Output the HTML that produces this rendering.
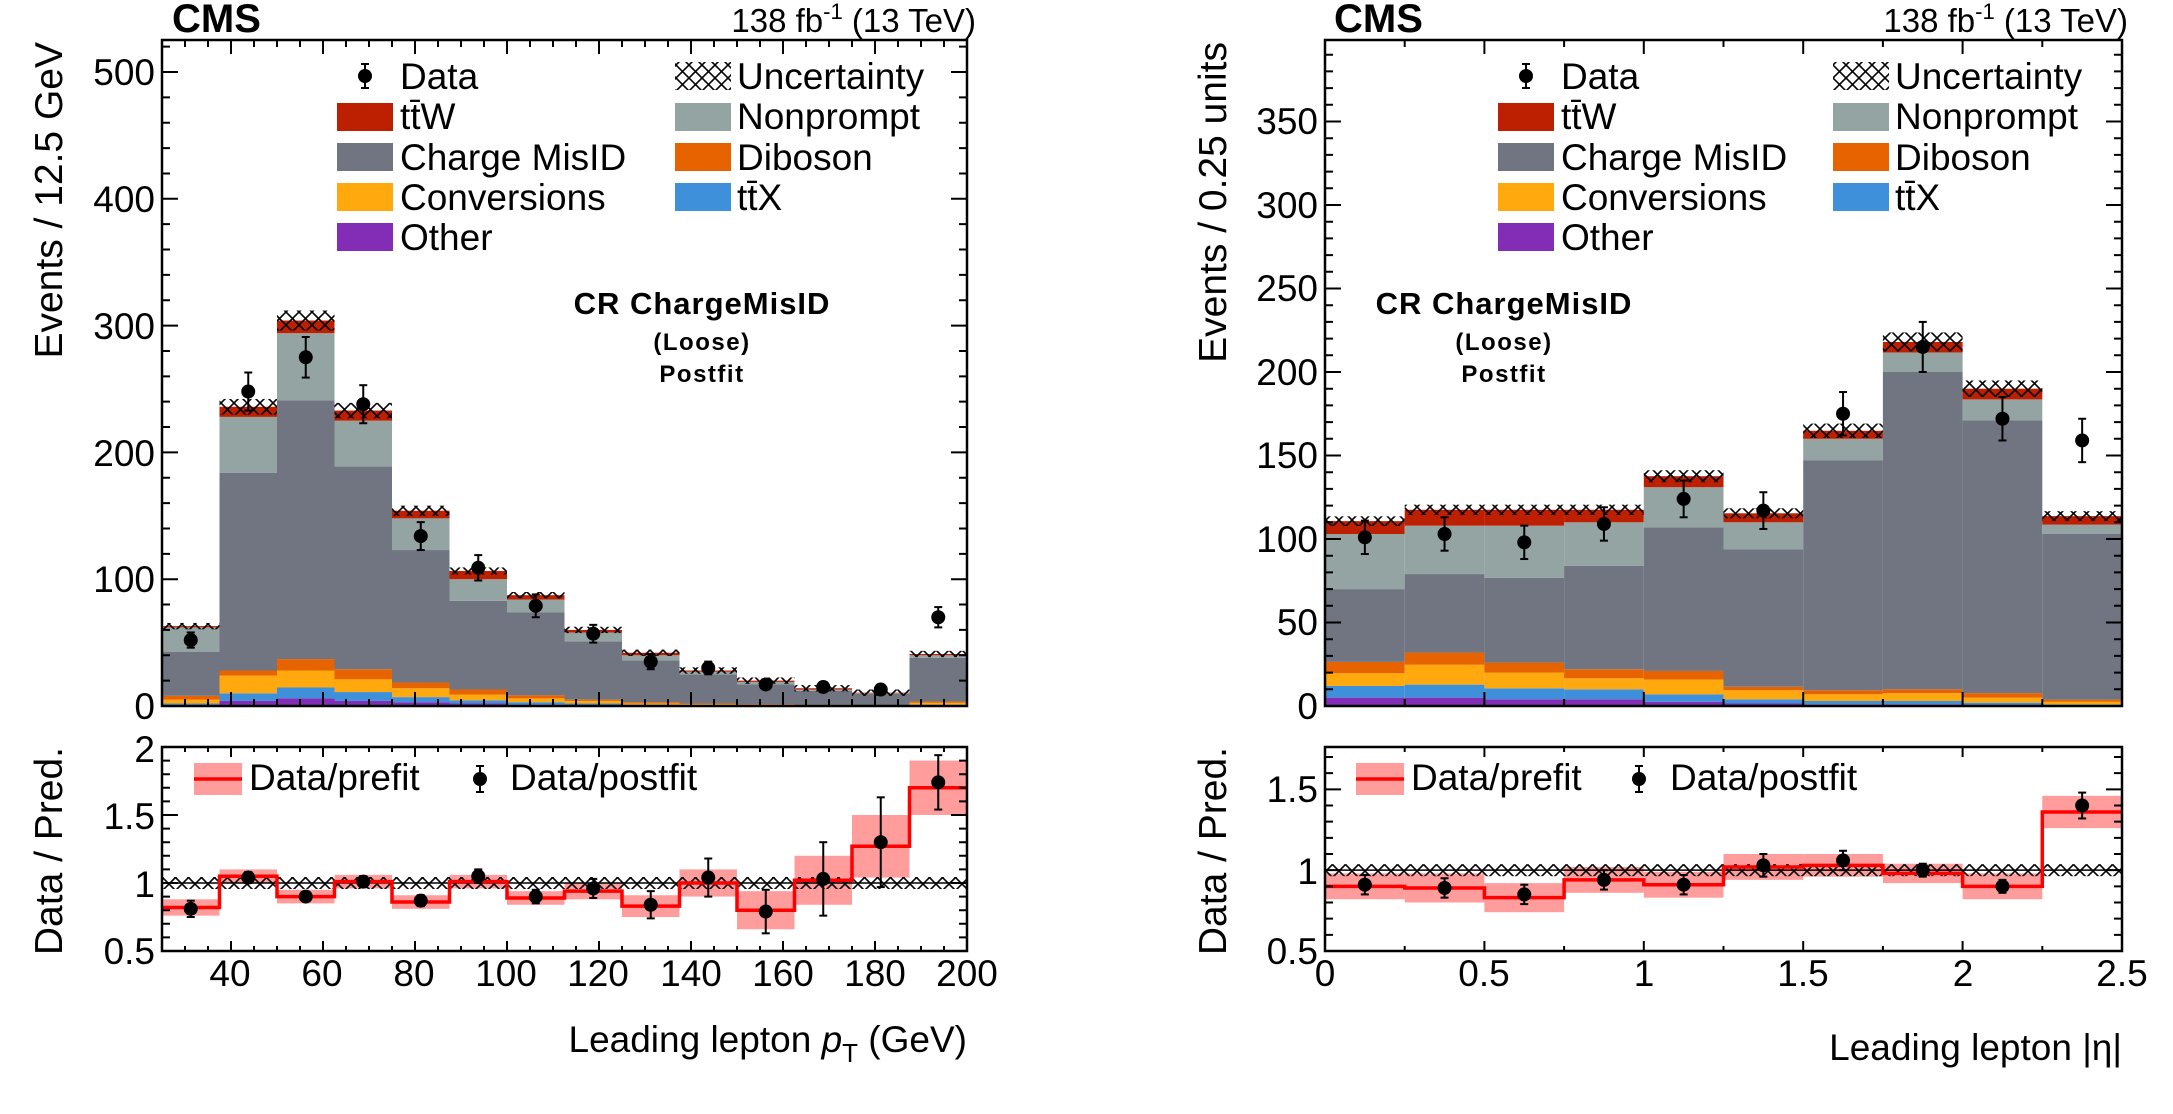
<!DOCTYPE html>
<html><head><meta charset="utf-8"><style>
html,body{margin:0;padding:0;background:#fff}
svg{display:block}
text{font-family:"Liberation Sans",Arial,sans-serif;fill:#000}
.t{font-size:37px}
.b{font-weight:bold}
</style></head><body>
<svg id="s" width="2173" height="1114" viewBox="0 0 2173 1114" xmlns="http://www.w3.org/2000/svg">
<defs>
<pattern id="h" width="13" height="13" patternUnits="userSpaceOnUse">
<path d="M0,0L13,13M13,0L0,13" stroke="#000" stroke-width="1.6"/>
</pattern>
</defs>
<g id="g"></g>
<text x="172" y="32" class="b" font-size="40">CMS</text>
<text x="976" y="32" font-size="33" text-anchor="end">138 fb<tspan dy="-13" font-size="22">-1</tspan><tspan dy="13"> (13 TeV)</tspan></text>
<g class="t">
<text x="155" y="85" text-anchor="end">500</text>
<text x="155" y="212" text-anchor="end">400</text>
<text x="155" y="339" text-anchor="end">300</text>
<text x="155" y="466" text-anchor="end">200</text>
<text x="155" y="592" text-anchor="end">100</text>
<text x="155" y="719" text-anchor="end">0</text>
<text x="155" y="762" text-anchor="end">2</text>
<text x="155" y="829" text-anchor="end">1.5</text>
<text x="155" y="897" text-anchor="end">1</text>
<text x="155" y="964" text-anchor="end">0.5</text>
<text x="230" y="986" text-anchor="middle">40</text>
<text x="322" y="986" text-anchor="middle">60</text>
<text x="414" y="986" text-anchor="middle">80</text>
<text x="506" y="986" text-anchor="middle">100</text>
<text x="598" y="986" text-anchor="middle">120</text>
<text x="691" y="986" text-anchor="middle">140</text>
<text x="783" y="986" text-anchor="middle">160</text>
<text x="875" y="986" text-anchor="middle">180</text>
<text x="967" y="986" text-anchor="middle">200</text>
<text x="967" y="1052" text-anchor="end">Leading lepton <tspan font-style="italic">p</tspan><tspan dy="10" font-size="26">T</tspan><tspan dy="-10"> (GeV)</tspan></text>
<text transform="translate(62,42) rotate(-90)" text-anchor="end" font-size="39">Events / 12.5 GeV</text>
<text transform="translate(62,747) rotate(-90)" text-anchor="end" font-size="39">Data / Pred.</text>
<text x="400" y="89">Data</text>
<text x="400" y="129">tt̄W</text>
<text x="400" y="170">Charge MisID</text>
<text x="400" y="210">Conversions</text>
<text x="400" y="250">Other</text>
<text x="737" y="89">Uncertainty</text>
<text x="737" y="129">Nonprompt</text>
<text x="737" y="170">Diboson</text>
<text x="737" y="210">tt̄X</text>
<text x="249" y="790">Data/prefit</text>
<text x="510" y="790">Data/postfit</text>
</g>
<text x="702" y="314" class="b" font-size="31" text-anchor="middle" letter-spacing="1">CR ChargeMisID</text>
<text x="702" y="350" class="b" font-size="24" text-anchor="middle" letter-spacing="1.5">(Loose)</text>
<text x="702" y="382" class="b" font-size="24" text-anchor="middle" letter-spacing="1.5">Postfit</text>
<text x="1334" y="32" class="b" font-size="40">CMS</text>
<text x="2128" y="32" font-size="33" text-anchor="end">138 fb<tspan dy="-13" font-size="22">-1</tspan><tspan dy="13"> (13 TeV)</tspan></text>
<g class="t">
<text x="1318" y="134" text-anchor="end">350</text>
<text x="1318" y="218" text-anchor="end">300</text>
<text x="1318" y="301" text-anchor="end">250</text>
<text x="1318" y="385" text-anchor="end">200</text>
<text x="1318" y="468" text-anchor="end">150</text>
<text x="1318" y="552" text-anchor="end">100</text>
<text x="1318" y="635" text-anchor="end">50</text>
<text x="1318" y="719" text-anchor="end">0</text>
<text x="1318" y="802" text-anchor="end">1.5</text>
<text x="1318" y="884" text-anchor="end">1</text>
<text x="1318" y="964" text-anchor="end">0.5</text>
<text x="1325" y="986" text-anchor="middle">0</text>
<text x="1484" y="986" text-anchor="middle">0.5</text>
<text x="1644" y="986" text-anchor="middle">1</text>
<text x="1803" y="986" text-anchor="middle">1.5</text>
<text x="1963" y="986" text-anchor="middle">2</text>
<text x="2122" y="986" text-anchor="middle">2.5</text>
<text x="2122" y="1060" text-anchor="end">Leading lepton |η|</text>
<text transform="translate(1226,42) rotate(-90)" text-anchor="end" font-size="39">Events / 0.25 units</text>
<text transform="translate(1226,747) rotate(-90)" text-anchor="end" font-size="39">Data / Pred.</text>
<text x="1561" y="89">Data</text>
<text x="1561" y="129">tt̄W</text>
<text x="1561" y="170">Charge MisID</text>
<text x="1561" y="210">Conversions</text>
<text x="1561" y="250">Other</text>
<text x="1895" y="89">Uncertainty</text>
<text x="1895" y="129">Nonprompt</text>
<text x="1895" y="170">Diboson</text>
<text x="1895" y="210">tt̄X</text>
<text x="1411" y="790">Data/prefit</text>
<text x="1670" y="790">Data/postfit</text>
</g>
<text x="1504" y="314" class="b" font-size="31" text-anchor="middle" letter-spacing="1">CR ChargeMisID</text>
<text x="1504" y="350" class="b" font-size="24" text-anchor="middle" letter-spacing="1.5">(Loose)</text>
<text x="1504" y="382" class="b" font-size="24" text-anchor="middle" letter-spacing="1.5">Postfit</text>
</svg>
<script>
(function(){
var NS="http://www.w3.org/2000/svg",G=document.getElementById("g");
function el(t,a){var e=document.createElementNS(NS,t);for(var k in a)e.setAttribute(k,a[k]);G.appendChild(e);return e;}
var C={other:"#832db6",ttx:"#3f90da",conv:"#ffa90e",dib:"#e76300",cm:"#717581",np:"#94a4a2",ttw:"#bd1f01"};
var L={x0:162,x1:967,lo:25,hi:200,yb:706,ymax:525,pp:126.8/100,rT:747,rB:951,rlo:0.5,rhi:2.0,
 st:[[1,2,5,8,42.6,62,63],[4,10,24,28,184,228,236],[6,14.6,28,37,241,294,304],[4,11,21,29,189,225,233],[3,7,14,18.5,123,148,154],[2,4.5,9,13,83,100,106.5],[1,3,6,8.4,74,84,87.4],[0.8,2,4,5,51,58,60],[0.5,1,2,3,36,40,42],[0.3,0.6,1.5,2,25,27,28],[0.2,0.4,1,1.5,17,19,20],[0.1,0.3,0.6,1,12,13,14],[0.1,0.2,0.4,0.6,9.5,10,10.5],[0.5,1,2.5,3.5,38,40,41]],
 d:[[52,6],[248,15],[275,16],[238,15],[134,11],[109,10],[79,9],[57,7],[35,6],[30,5],[17,4],[15,4],[13,3.5],[70,8]],
 pre:[0.82,1.05,0.9,1.01,0.86,1.01,0.89,0.94,0.83,1.0,0.8,1.02,1.27,1.7],
 pe:[0.06,0.05,0.05,0.05,0.05,0.05,0.05,0.06,0.08,0.1,0.14,0.18,0.23,0.2],
 pt:[[0.81,0.06],[1.04,0.04],[0.9,0.03],[1.01,0.04],[0.87,0.04],[1.05,0.05],[0.9,0.05],[0.96,0.07],[0.84,0.1],[1.04,0.14],[0.79,0.16],[1.03,0.27],[1.3,0.33],[1.74,0.2]],
 xmaj:[40,60,80,100,120,140,160,180,200],xmin:5,ymaj:100,ymin:20,rmaj:0.5,rmin:0.1};
var R={x0:1325,x1:2122,lo:0,hi:2.5,yb:706,ymax:399,pp:83.5/50,rT:747,rB:951,rlo:0.5,rhi:1.762,
 st:[[5,12,19.6,26.4,70,103,110.7],[5,12.8,24.7,32,79,108,117.5],[4,10.6,20,26,76.7,108,117.5],[4,10,16.6,22,84,110,117.5],[2.5,7,15.8,21,107,131,137.6],[1.5,4,9.4,11.5,93.7,110,115.4],[1,3,7,9.4,147,160,164.8],[1,3,7.7,10,200,211.7,218],[0.5,2,5,7.7,171,183.6,190],[0.3,1,2.5,3.8,103,108.6,113.7]],
 d:[[101,10],[103,10],[98,10],[109,10],[124,11],[117,11],[175,13],[215,15],[172,13],[159,13]],
 pre:[0.9,0.89,0.83,0.94,0.91,1.02,1.03,0.98,0.9,1.36],
 pe:[0.08,0.09,0.09,0.08,0.08,0.08,0.07,0.06,0.08,0.1],
 pt:[[0.91,0.06],[0.89,0.06],[0.85,0.06],[0.94,0.06],[0.91,0.06],[1.03,0.07],[1.06,0.06],[1.0,0.04],[0.9,0.04],[1.4,0.08]],
 xmaj:[0,0.5,1,1.5,2,2.5],xmin:0.25,ymaj:50,ymin:10,rmaj:0.5,rmin:0.1};
function draw(P){
 var n=P.st.length,bw=(P.x1-P.x0)/n;
 function X(v){return P.x0+(v-P.lo)/(P.hi-P.lo)*(P.x1-P.x0);}
 function Y(v){return P.yb-v*P.pp;}
 function RY(v){return P.rB-(v-P.rlo)/(P.rhi-P.rlo)*(P.rB-P.rT);}
 var keys=["other","ttx","conv","dib","cm","np","ttw"];
 for(var i=0;i<n;i++){
  var xa=P.x0+i*bw,prev=0;
  for(var k=0;k<7;k++){var v=P.st[i][k];
   el("rect",{x:xa,y:Y(v),width:bw,height:Y(prev)-Y(v),fill:C[keys[k]]});prev=v;}
  var t=P.st[i][6],u=Math.max(t*0.026,2.5);
  el("rect",{x:xa,y:Y(t+u),width:bw,height:Y(t-u)-Y(t+u),fill:"url(#h)"});
 }
 for(var i=0;i<n;i++){var xc=P.x0+(i+0.5)*bw,d=P.d[i];
  el("line",{x1:xc,x2:xc,y1:Y(d[0]+d[1]),y2:Y(d[0]-d[1]),stroke:"#000","stroke-width":2});
  el("line",{x1:xc-4,x2:xc+4,y1:Y(d[0]+d[1]),y2:Y(d[0]+d[1]),stroke:"#000","stroke-width":2});
  el("line",{x1:xc-4,x2:xc+4,y1:Y(d[0]-d[1]),y2:Y(d[0]-d[1]),stroke:"#000","stroke-width":2});
  el("circle",{cx:xc,cy:Y(d[0]),r:7,fill:"#000"});}
 for(var i=0;i<n;i++){var xa=P.x0+i*bw;
  el("rect",{x:xa,y:RY(Math.min(P.pre[i]+P.pe[i],P.rhi)),width:bw,height:RY(P.pre[i]-P.pe[i])-RY(Math.min(P.pre[i]+P.pe[i],P.rhi)),fill:"#ff9c9c"});}
 el("rect",{x:P.x0,y:RY(1)-6,width:P.x1-P.x0,height:12,fill:"url(#h)"});
 el("line",{x1:P.x0,x2:P.x1,y1:RY(1),y2:RY(1),stroke:"#000","stroke-width":1.5});
 var dd="";for(var i=0;i<n;i++){var xa=P.x0+i*bw,y=RY(P.pre[i]);dd+=(i?"L":"M")+xa+","+y+"L"+(xa+bw)+","+y;}
 el("path",{d:dd,fill:"none",stroke:"#f00","stroke-width":3.5});
 for(var i=0;i<n;i++){var xc=P.x0+(i+0.5)*bw,p=P.pt[i];
  el("line",{x1:xc,x2:xc,y1:RY(p[0]+p[1]),y2:RY(p[0]-p[1]),stroke:"#000","stroke-width":2});
  el("line",{x1:xc-4,x2:xc+4,y1:RY(p[0]+p[1]),y2:RY(p[0]+p[1]),stroke:"#000","stroke-width":2});
  el("line",{x1:xc-4,x2:xc+4,y1:RY(p[0]-p[1]),y2:RY(p[0]-p[1]),stroke:"#000","stroke-width":2});
  el("circle",{cx:xc,cy:RY(p[0]),r:7,fill:"#000"});}
 var top=40;
 el("rect",{x:P.x0,y:top,width:P.x1-P.x0,height:P.yb-top,fill:"none",stroke:"#000","stroke-width":2.5});
 el("rect",{x:P.x0,y:P.rT,width:P.x1-P.x0,height:P.rB-P.rT,fill:"none",stroke:"#000","stroke-width":2.5});
 var s="",eps=1e-6;
 for(var v=P.lo;v<=P.hi+eps;v+=P.xmin){var x=X(v),maj=P.xmaj.some(function(m){return Math.abs(m-v)<eps;});
  var lm=maj?14:7,lr=maj?10:5;
  s+="M"+x+","+P.yb+"v"+(-lm)+"M"+x+","+top+"v"+lm+"M"+x+","+P.rB+"v"+(-lr)+"M"+x+","+P.rT+"v"+lr;}
 for(var v=0;v<=P.ymax+eps;v+=P.ymin){var y=Y(v),maj=Math.abs(v/P.ymaj-Math.round(v/P.ymaj))<eps,l=maj?16:8;
  s+="M"+P.x0+","+y+"h"+l+"M"+P.x1+","+y+"h"+(-l);}
 for(var v=P.rlo;v<=P.rhi+eps;v+=P.rmin){var y=RY(v),maj=Math.abs(v/P.rmaj-Math.round(v/P.rmaj))<1e-4,l=maj?16:8;
  s+="M"+P.x0+","+y+"h"+l+"M"+P.x1+","+y+"h"+(-l);}
 el("path",{d:s,stroke:"#000","stroke-width":2,fill:"none"});
}
draw(L);draw(R);
function legend(mx,bx,cx2,rb,rm){
 var rows=[76,117,157,197,237];
 el("line",{x1:mx,x2:mx,y1:rows[0]-12,y2:rows[0]+12,stroke:"#000","stroke-width":2});
 el("line",{x1:mx-4,x2:mx+4,y1:rows[0]-12,y2:rows[0]-12,stroke:"#000","stroke-width":2});
 el("line",{x1:mx-4,x2:mx+4,y1:rows[0]+12,y2:rows[0]+12,stroke:"#000","stroke-width":2});
 el("circle",{cx:mx,cy:rows[0],r:7,fill:"#000"});
 var lc=[C.ttw,C.cm,C.conv,C.other];
 for(var i=0;i<4;i++)el("rect",{x:bx,y:rows[i+1]-14,width:56,height:28,fill:lc[i]});
 el("rect",{x:cx2,y:rows[0]-14,width:56,height:28,fill:"url(#h)"});
 var rc=[C.np,C.dib,C.ttx];
 for(var i=0;i<3;i++)el("rect",{x:cx2,y:rows[i+1]-14,width:56,height:28,fill:rc[i]});
 el("rect",{x:rb,y:763,width:48,height:32,fill:"#ff9c9c"});
 el("line",{x1:rb,x2:rb+48,y1:779,y2:779,stroke:"#f00","stroke-width":3.5});
 el("line",{x1:rm,x2:rm,y1:766,y2:792,stroke:"#000","stroke-width":2});
 el("line",{x1:rm-4,x2:rm+4,y1:766,y2:766,stroke:"#000","stroke-width":2});
 el("line",{x1:rm-4,x2:rm+4,y1:792,y2:792,stroke:"#000","stroke-width":2});
 el("circle",{cx:rm,cy:779,r:7,fill:"#000"});
}
legend(365,337,675,194,480);
legend(1526,1498,1833,1356,1639);
})();
</script>
</body></html>
